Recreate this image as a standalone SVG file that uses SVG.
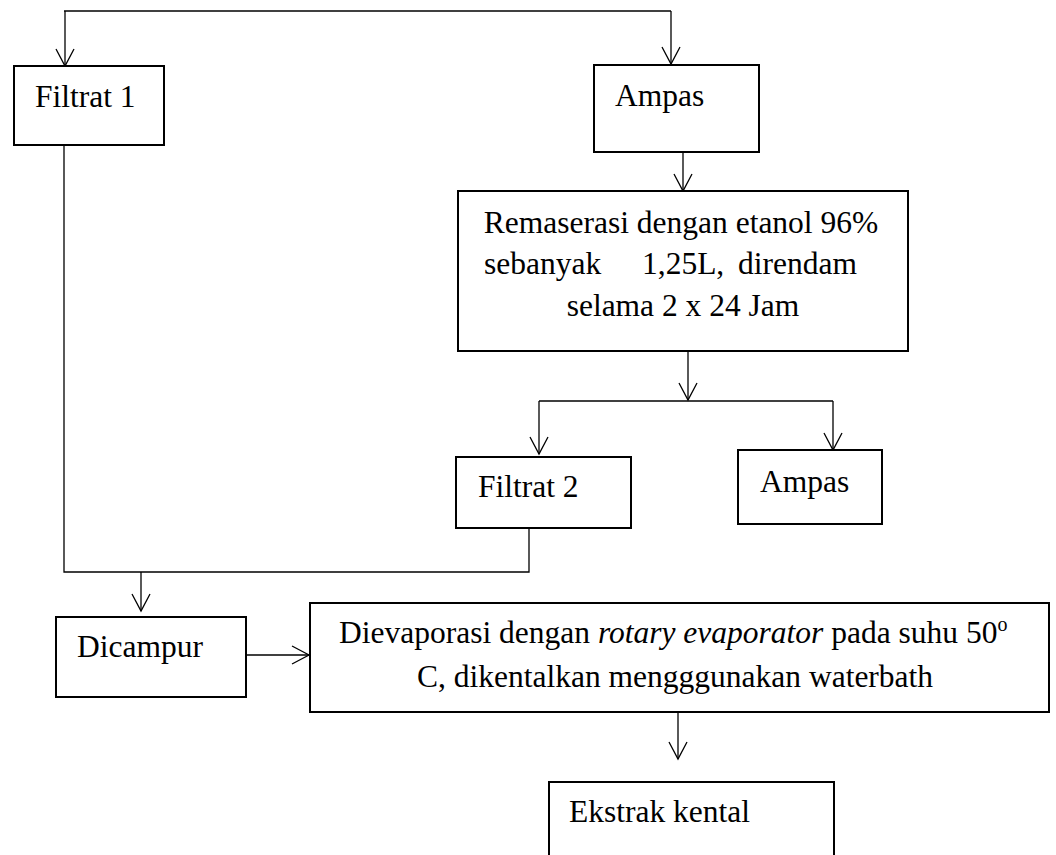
<svg xmlns="http://www.w3.org/2000/svg" width="1056" height="855" viewBox="0 0 1056 855">
<defs>
<style>
.box{fill:#fff;stroke:#000;stroke-width:2}
.ln{fill:none;stroke:#000;stroke-width:1.3}
.t{font-family:"Liberation Serif","Times New Roman",serif;font-size:31.5px;fill:#000}
.i{font-style:italic}
</style>
<marker id="ah" markerUnits="userSpaceOnUse" markerWidth="24" markerHeight="24" viewBox="-20 -12 24 24" refX="0" refY="0" orient="auto">
<path d="M-17,-9 L0,0 L-17,9" fill="none" stroke="#000" stroke-width="1.3"/>
</marker>
</defs>
<rect width="1056" height="855" fill="#fff"/>
<g id="connectors">
<path class="ln" d="M64,11 H671"/>
<path class="ln" d="M65,11 V66" marker-end="url(#ah)"/>
<path class="ln" d="M671,11 V64" marker-end="url(#ah)"/>
<path class="ln" d="M683,152 V191" marker-end="url(#ah)"/>
<path class="ln" d="M688,351 V400" marker-end="url(#ah)"/>
<path class="ln" d="M539,401 H833"/>
<path class="ln" d="M539,401 V454" marker-end="url(#ah)"/>
<path class="ln" d="M833,401 V450" marker-end="url(#ah)"/>
<path class="ln" d="M64,145 V572 H529 V528"/>
<path class="ln" d="M141,572 V611" marker-end="url(#ah)"/>
<path class="ln" d="M246,655 H309" marker-end="url(#ah)"/>
<path class="ln" d="M678,712 V759" marker-end="url(#ah)"/>
</g>
<g id="filtrat1">
<rect class="box" x="14" y="66" width="150" height="79"/>
<text class="t" x="35" y="107">Filtrat 1</text>
</g>
<g id="ampas1">
<rect class="box" x="594" y="65" width="165" height="87"/>
<text class="t" x="615" y="106">Ampas</text>
</g>
<g id="remaserasi">
<rect class="box" x="458" y="191" width="450" height="160"/>
<text class="t" x="681" y="233" text-anchor="middle">Remaserasi dengan etanol 96%</text>
<text class="t" y="274"><tspan x="484">sebanyak</tspan><tspan x="642">1,25L,</tspan><tspan x="738">direndam</tspan></text>
<text class="t" x="683" y="316" text-anchor="middle">selama 2 x 24 Jam</text>
</g>
<g id="filtrat2">
<rect class="box" x="456" y="457" width="175" height="71"/>
<text class="t" x="478" y="497">Filtrat 2</text>
</g>
<g id="ampas2">
<rect class="box" x="738" y="450" width="144" height="74"/>
<text class="t" x="760" y="492">Ampas</text>
</g>
<g id="dicampur">
<rect class="box" x="56" y="617" width="190" height="80"/>
<text class="t" x="77" y="657">Dicampur</text>
</g>
<g id="dievaporasi">
<rect class="box" x="310" y="603" width="739" height="109"/>
<text class="t" x="339" y="643">Dievaporasi dengan <tspan class="i">rotary evaporator</tspan> pada suhu 50<tspan font-size="20" dy="-12">o</tspan></text>
<text class="t" x="417" y="687">C, dikentalkan mengggunakan waterbath</text>
</g>
<g id="ekstrak">
<rect class="box" x="549" y="782" width="285" height="110"/>
<text class="t" x="569" y="822">Ekstrak kental</text>
</g>
</svg>
